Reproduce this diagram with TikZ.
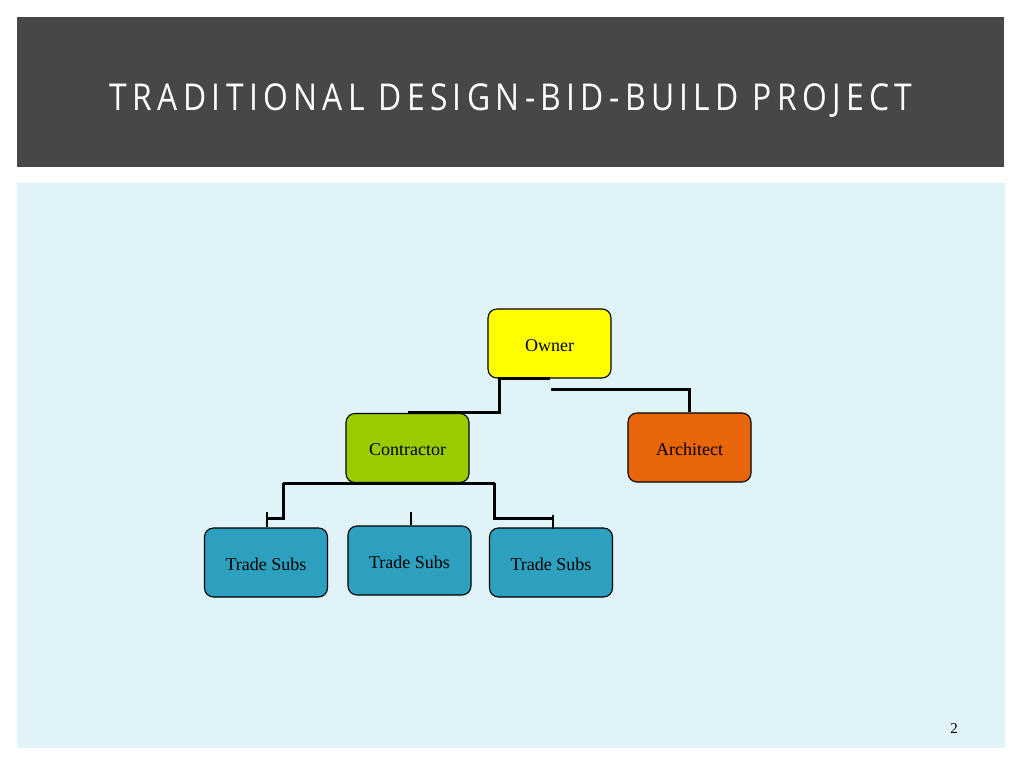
\documentclass[tikz,border=0pt]{standalone}
\usepackage{fontspec}
\setmainfont{Liberation Serif}
\newfontfamily\titlefont[LetterSpace=14.5,FakeStretch=0.86]{Open Sans}
\usetikzlibrary{calc}
\newcommand\lowertxt[1]{\raisebox{-2pt}[\height][\depth]{#1}}
\definecolor{hdr}{HTML}{474747}
\definecolor{panel}{HTML}{DFF3F9}
\definecolor{ownerc}{HTML}{FFFF00}
\definecolor{contrc}{HTML}{99CC00}
\definecolor{archc}{HTML}{E8650A}
\definecolor{subc}{HTML}{2DA0BF}
\tikzset{
  box/.style={draw=black, line width=1.1pt, rounded corners=9pt, minimum width=123pt, minimum height=69pt, inner sep=0pt, font=\fontsize{18}{20}\selectfont},
  link/.style={draw=black, line width=3pt},
  tick/.style={draw=black, line width=2.2pt}
}
\begin{document}
\begin{tikzpicture}[x=1pt,y=-1pt]
\useasboundingbox (0,0) rectangle (1024,768);
\fill[white] (0,0) rectangle (1024,768);
\fill[hdr] (17,17) rectangle (1004,167);
\fill[panel] (17,183) rectangle (1005,748);
\node[text=white, font=\titlefont\fontsize{37}{42}\selectfont] (title) at (511,101) {TRADITIONAL DESIGN-BID-BUILD PROJECT};
\node[font=\fontsize{15}{17}\selectfont] (page) at (954,729) {2};

\node[box, fill=ownerc] (owner) at (549.5,343.5) {\lowertxt{Owner}};
\node[box, fill=contrc] (contr) at (407.5,448) {\lowertxt{Contractor}};
\node[box, fill=archc] (arch) at (689.5,447.5) {\lowertxt{Architect}};
\node[box, fill=subc] (sub1) at (266,562.5) {\lowertxt{Trade Subs}};
\node[box, fill=subc] (sub2) at (409.5,560.5) {\lowertxt{Trade Subs}};
\node[box, fill=subc] (sub3) at (551,562.5) {\lowertxt{Trade Subs}};

% owner -> contractor
\coordinate (o1) at ($(owner.south west)+(12,0)$);
\coordinate (o2) at ($(owner.south west)+(63,0)$);
\draw[link] (o2) -- (o1) -- (o1 |- contr.north) -- ($(contr.north west)+(63,0)$);
% owner -> architect
\coordinate (a1) at ($(owner.south west)+(64,11)$);
\draw[link] (a1) -- (a1 -| arch.north) -- (arch.north);
% contractor -> subs
\coordinate (c1) at ($(contr.south west)+(-62,0)$);
\coordinate (c2) at ($(contr.south east)+(25,0)$);
\draw[link] (c1) -- (c2);
\draw[link] (c1) -- ($(c1)+(0,35)$) -- ($(c1)+(-17,35)$);
\draw[tick] ($(sub1.north)+(1,-15)$) -- ($(sub1.north)+(1,0)$);
\draw[link] (c2) -- ($(c2)+(0,35)$) -- ($(c2)+(59,35)$);
\draw[tick] ($(sub3.north)+(2,-12)$) -- ($(sub3.north)+(2,2)$);
\coordinate (m1) at ($(sub2.north)+(1.5,-13)$);
\draw[tick] (m1) -- (m1 |- sub2.north);
\end{tikzpicture}
\end{document}
